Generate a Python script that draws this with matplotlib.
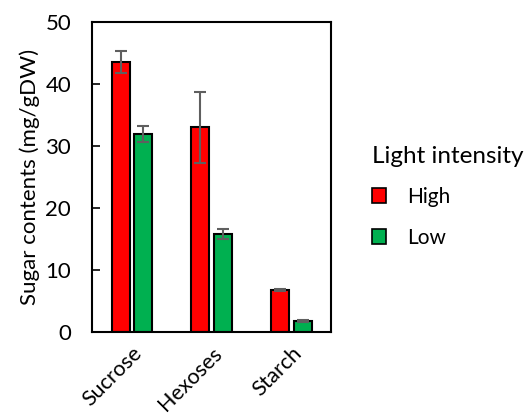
import matplotlib
matplotlib.use("Agg")
import matplotlib.pyplot as plt
from matplotlib.patches import Patch
import numpy as np

categories = ["Sucrose", "Hexoses", "Starch"]
series = ["High", "Low"]
high_vals = [43.6, 33.0, 6.8]
high_err = [1.8, 5.8, 0.2]
low_vals = [31.9, 15.8, 1.8]
low_err = [1.3, 0.8, 0.2]
colors = ["#FF0000", "#00B050"]
yticks = [0, 10, 20, 30, 40, 50]

plt.rcParams['font.family'] = ['Lato', 'DejaVu Sans']

fig = plt.figure(figsize=(5.29, 4.18), dpi=100)
ax = fig.add_axes([0.174, 0.206, 0.452, 0.741])

x = np.arange(len(categories))
w = 0.226
off = 0.142
ekw = dict(ecolor="#5f5f5f", elinewidth=1.5, capsize=4, capthick=1.5)
ax.bar(x - off, high_vals, w, yerr=high_err, color=colors[0], edgecolor="black", linewidth=1.5, error_kw=ekw, label=series[0])
ax.bar(x + off, low_vals, w, yerr=low_err, color=colors[1], edgecolor="black", linewidth=1.5, error_kw=ekw, label=series[1])

ax.set_xlim(-0.5, 2.5)
ax.set_ylim(0, 50)
ax.set_yticks(yticks)
ax.set_xticks(x)
ax.set_xticklabels(categories, rotation=45, ha="right", va="top", rotation_mode="anchor")
ax.tick_params(axis="y", direction="in", length=6, width=1.2, labelsize=16, pad=15)
ax.tick_params(axis="x", length=0, labelsize=15.5, pad=8)
for s in ax.spines.values():
    s.set_linewidth(1.5)
ax.set_ylabel("Sugar contents (mg/gDW)", fontsize=16, labelpad=4)

handles = [Patch(facecolor=colors[0], edgecolor="black", linewidth=1.2, label=series[0]),
           Patch(facecolor=colors[1], edgecolor="black", linewidth=1.2, label=series[1])]
leg = fig.legend(handles=handles, title="Light intensity", loc="upper left",
                 bbox_to_anchor=(0.683, 0.675), frameon=False, fontsize=15,
                 title_fontsize=17.5, handlelength=0.7, handleheight=0.7,
                 labelspacing=1.0, handletextpad=1.0, alignment="left",
                 borderpad=0.0)
leg._legend_box.sep = 14

fig.savefig("out.png", dpi=100)
